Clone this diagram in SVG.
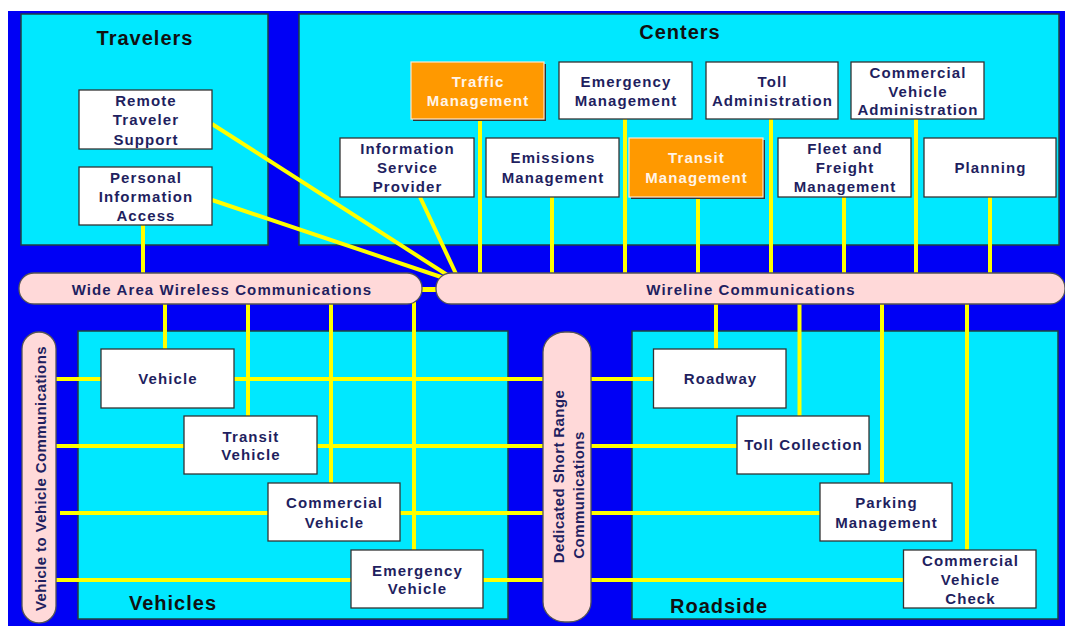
<svg xmlns="http://www.w3.org/2000/svg" width="1065" height="626" viewBox="0 0 1065 626">
<style>
.bg{fill:#0000F5}
.area{fill:#00E8FF;stroke:#1F3F3F;stroke-width:1.5}
.box{fill:#FFFFFF;stroke:#333333;stroke-width:1.3}
.obox{fill:#FF9900;stroke:#FFE6CC;stroke-width:1.2}
.shadow{fill:#333333}
.bar{fill:#FFD9D9;stroke:#555555;stroke-width:1.3}
.c{stroke:#FFFF00;stroke-width:4;fill:none}
.t{font-family:"Liberation Sans",Arial,sans-serif;font-weight:bold;font-size:15px;letter-spacing:1.1px;fill:#1F1F60;text-anchor:middle}
.tw{fill:#FFF4E8}
.title{font-size:20px;fill:#111111;letter-spacing:1px}
.rot{letter-spacing:0.4px}
</style>
<rect class="bg" x="8" y="11" width="1057" height="615"/>

<g id="travelers-area">
<rect class="area" x="21" y="14" width="247" height="231"/>
<text class="t title" x="145" y="45">Travelers</text>
</g>
<g id="centers-area">
<rect class="area" x="299" y="14" width="760" height="231"/>
<text class="t title" x="680" y="39">Centers</text>
</g>
<g id="vehicles-area">
<rect class="area" x="78" y="331" width="430" height="288"/>
<text class="t title" x="173" y="610">Vehicles</text>
</g>
<g id="roadside-area">
<rect class="area" x="632" y="331" width="426" height="288"/>
<text class="t title" x="719" y="613">Roadside</text>
</g>

<g id="connectors">
<path class="c" d="M212,124 L452,278"/>
<path class="c" d="M212,200 L450,280"/>
<path class="c" d="M420,197 L457,276"/>
<path class="c" d="M143,225 V276"/>
<path class="c" d="M480,119 V276"/>
<path class="c" d="M552,197 V276"/>
<path class="c" d="M625,119 V276"/>
<path class="c" d="M698,197 V276"/>
<path class="c" d="M771,119 V276"/>
<path class="c" d="M844,197 V276"/>
<path class="c" d="M916,119 V276"/>
<path class="c" d="M990,197 V276"/>
<path class="c" d="M418,289.5 H442" style="stroke-width:5"/>
<path class="c" d="M165,302 V349"/>
<path class="c" d="M248,302 V416"/>
<path class="c" d="M331,302 V483"/>
<path class="c" d="M414,302 V550"/>
<path class="c" d="M716,302 V349"/>
<path class="c" d="M799.5,302 V416"/>
<path class="c" d="M882,302 V483"/>
<path class="c" d="M967,302 V550"/>
<path class="c" d="M54,379 H545"/>
<path class="c" d="M54,446 H545"/>
<path class="c" d="M60,513 H545"/>
<path class="c" d="M54,580 H545"/>
<path class="c" d="M589,379 H654"/>
<path class="c" d="M589,446 H737"/>
<path class="c" d="M589,513 H820"/>
<path class="c" d="M589,580 H904"/>
</g>

<g id="wide-area-wireless">
<rect class="bar" x="19" y="273" width="403" height="31" rx="15" ry="15"/>
<text class="t" x="222" y="294.5">Wide Area Wireless Communications</text>
</g>
<g id="wireline">
<rect class="bar" x="436" y="273" width="629" height="31" rx="15" ry="15"/>
<text class="t" x="751" y="294.5">Wireline Communications</text>
</g>
<g id="v2v">
<rect class="bar" x="22" y="332" width="34" height="291" rx="17" ry="17"/>
<text class="t rot" transform="translate(45.5,478.5) rotate(-90)" x="0" y="0">Vehicle to Vehicle Communications</text>
</g>
<g id="dsrc">
<rect class="bar" x="543" y="332" width="48" height="290" rx="22" ry="20"/>
<text class="t rot" transform="translate(564,476.5) rotate(-90)" x="0" y="0">Dedicated Short Range</text>
<text class="t rot" transform="translate(583.5,495) rotate(-90)" x="0" y="0">Communications</text>
</g>

<g id="remote-traveler-support">
<rect class="box" x="79" y="90" width="133" height="59"/>
<text class="t" x="146" y="105.5">Remote</text>
<text class="t" x="146" y="125">Traveler</text>
<text class="t" x="146" y="144.5">Support</text>
</g>
<g id="personal-information-access">
<rect class="box" x="79" y="167" width="133" height="58"/>
<text class="t" x="146" y="183">Personal</text>
<text class="t" x="146" y="202">Information</text>
<text class="t" x="146" y="220.5">Access</text>
</g>

<g id="traffic-management">
<rect class="shadow" x="413" y="64" width="133" height="57"/>
<rect class="obox" x="411" y="62" width="133" height="57"/>
<text class="t tw" x="478" y="87">Traffic</text>
<text class="t tw" x="478" y="105.5">Management</text>
</g>
<g id="emergency-management">
<rect class="box" x="559" y="62" width="133" height="57"/>
<text class="t" x="626" y="87">Emergency</text>
<text class="t" x="626" y="105.5">Management</text>
</g>
<g id="toll-administration">
<rect class="box" x="706" y="62" width="132" height="57"/>
<text class="t" x="772.5" y="87">Toll</text>
<text class="t" x="772.5" y="105.5">Administration</text>
</g>
<g id="commercial-vehicle-administration">
<rect class="box" x="851" y="62" width="133" height="57"/>
<text class="t" x="918" y="78">Commercial</text>
<text class="t" x="918" y="96.5">Vehicle</text>
<text class="t" x="918" y="115">Administration</text>
</g>
<g id="information-service-provider">
<rect class="box" x="340" y="138" width="134" height="59"/>
<text class="t" x="407.5" y="153.5">Information</text>
<text class="t" x="407.5" y="172.5">Service</text>
<text class="t" x="407.5" y="191.5">Provider</text>
</g>
<g id="emissions-management">
<rect class="box" x="486" y="138" width="133" height="59"/>
<text class="t" x="553" y="162.5">Emissions</text>
<text class="t" x="553" y="182.5">Management</text>
</g>
<g id="transit-management">
<rect class="shadow" x="631" y="140" width="134" height="59"/>
<rect class="obox" x="629" y="138" width="134" height="59"/>
<text class="t tw" x="696.5" y="162.5">Transit</text>
<text class="t tw" x="696.5" y="182.5">Management</text>
</g>
<g id="fleet-freight-management">
<rect class="box" x="778" y="138" width="133" height="59"/>
<text class="t" x="845" y="154">Fleet and</text>
<text class="t" x="845" y="173">Freight</text>
<text class="t" x="845" y="191.5">Management</text>
</g>
<g id="planning">
<rect class="box" x="924" y="138" width="132" height="59"/>
<text class="t" x="990.5" y="173">Planning</text>
</g>

<g id="vehicle">
<rect class="box" x="101" y="349" width="133" height="59"/>
<text class="t" x="168" y="384">Vehicle</text>
</g>
<g id="transit-vehicle">
<rect class="box" x="184" y="416" width="133" height="58"/>
<text class="t" x="251" y="441.5">Transit</text>
<text class="t" x="251" y="460">Vehicle</text>
</g>
<g id="commercial-vehicle">
<rect class="box" x="268" y="483" width="132" height="58"/>
<text class="t" x="334.5" y="508">Commercial</text>
<text class="t" x="334.5" y="527.5">Vehicle</text>
</g>
<g id="emergency-vehicle">
<rect class="box" x="351" y="550" width="132" height="58"/>
<text class="t" x="417.5" y="575.5">Emergency</text>
<text class="t" x="417.5" y="594">Vehicle</text>
</g>

<g id="roadway">
<rect class="box" x="653.5" y="349" width="132.5" height="59"/>
<text class="t" x="720.5" y="384">Roadway</text>
</g>
<g id="toll-collection">
<rect class="box" x="737" y="416" width="132" height="58"/>
<text class="t" x="803.5" y="450">Toll Collection</text>
</g>
<g id="parking-management">
<rect class="box" x="820" y="483" width="132" height="58"/>
<text class="t" x="886.5" y="508">Parking</text>
<text class="t" x="886.5" y="527.5">Management</text>
</g>
<g id="commercial-vehicle-check">
<rect class="box" x="903.5" y="550" width="132.5" height="58"/>
<text class="t" x="970.5" y="565.5">Commercial</text>
<text class="t" x="970.5" y="584.5">Vehicle</text>
<text class="t" x="970.5" y="603.5">Check</text>
</g>
</svg>
